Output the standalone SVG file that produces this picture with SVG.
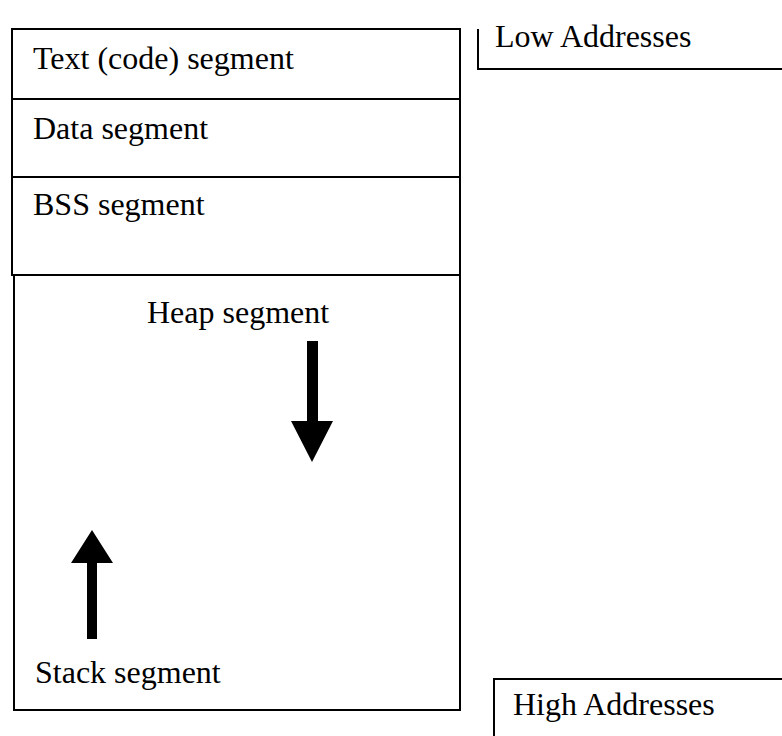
<svg xmlns="http://www.w3.org/2000/svg" width="782" height="736" viewBox="0 0 782 736">
<style>
.ln{stroke:#000;stroke-width:2;fill:none}
.t{font-family:"Liberation Serif","Times New Roman",serif;font-size:32px;fill:#000}
.ar{fill:#000}
</style>
<rect width="782" height="736" fill="#fff"/>
<g id="text-segment">
<rect class="ln" x="12" y="29" width="448" height="70"/>
<text class="t" x="33" y="69">Text (code) segment</text>
</g>
<g id="data-segment">
<rect class="ln" x="12" y="99" width="448" height="78"/>
<text class="t" x="33" y="139">Data segment</text>
</g>
<g id="bss-segment">
<rect class="ln" x="12" y="177" width="448" height="98"/>
<text class="t" x="33" y="215">BSS segment</text>
</g>
<g id="heap-stack">
<path class="ln" d="M14 275 V710 H460 V275"/>
<text class="t" x="147" y="323">Heap segment</text>
<text class="t" x="35" y="683">Stack segment</text>
</g>
<g id="low-addresses">
<path class="ln" d="M478 29 V69 H782"/>
<text class="t" x="495" y="47">Low Addresses</text>
</g>
<g id="high-addresses">
<path class="ln" d="M494 736 V679 H782"/>
<text class="t" x="513" y="715">High Addresses</text>
</g>
<g id="connectors">
<path class="ar" d="M307 341 H318 V421 H333 L312 462 L291 421 H307 Z"/>
<path class="ar" d="M87 639 H97 V563 H113 L92 530 L71 563 H87 Z"/>
</g>
</svg>
